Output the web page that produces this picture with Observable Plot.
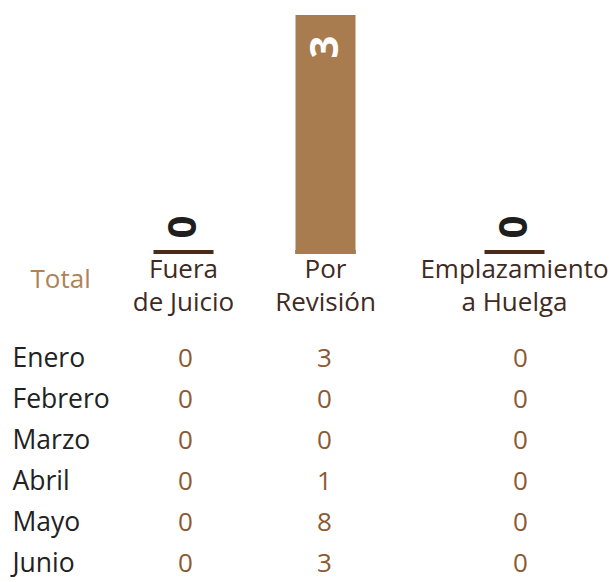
<!DOCTYPE html>
<html>
<head>
<meta charset="utf-8">
<script src="https://cdn.jsdelivr.net/npm/d3@7"></script>
<script src="https://cdn.jsdelivr.net/npm/@observablehq/plot@0.6"></script>
<style>
  html, body { margin: 0; padding: 0; background: #ffffff; }
  #chart svg { display: block; }
</style>
</head>
<body>
<div id="chart"></div>
<script>
// ---- data ----
const categories = ["Fuera de Juicio", "Por Revisión", "Emplazamiento a Huelga"];
const categoryLabels = ["Fuera\nde Juicio", "Por\nRevisión", "Emplazamiento\na Huelga"];
const totals = [0, 3, 0];
const totalLabel = "Total";
const months = ["Enero", "Febrero", "Marzo", "Abril", "Mayo", "Junio"];
const fueraDeJuicio = [0, 0, 0, 0, 0, 0];
const porRevision = [3, 0, 0, 1, 8, 3];
const emplazamientoAHuelga = [0, 0, 0, 0, 0, 0];

// ---- tables built from the arrays ----
const bars = categories.map((c, i) => ({i, category: c, label: categoryLabels[i], total: totals[i]}));
const monthly = [fueraDeJuicio, porRevision, emplazamientoAHuelga];
const cells = [];
months.forEach((m, r) => monthly.forEach((series, i) => cells.push({month: m, i, value: series[r]})));

const FONT = "'Open Sans', sans-serif";
const BAR = "#a97c50";
const DARK_LINE = "#4a2a18";
const LABEL = "#3f2a1f";
const VALUE = "#8c5a32";
const TOTAL = "#b08256";

const barChart = Plot.plot({
  width: 616,
  height: 320,
  margin: 0,
  style: {fontFamily: FONT, background: "transparent", overflow: "visible"},
  x: {type: "linear", domain: [0, 1, 2], range: [183, 325, 514], axis: null},
  y: {domain: [0, 3], range: [254, 15], axis: null},
  marks: [
    Plot.ruleX(bars, {x: "i", y1: 0, y2: 0, insetBottom: 4, stroke: DARK_LINE, strokeWidth: 60}),
    Plot.ruleX(bars, {x: "i", y1: 0, y2: "total", stroke: BAR, strokeWidth: 60}),
    Plot.text(bars.filter(d => d.total > 0), {
      x: "i", y: "total", text: d => String(d.total), rotate: -90, textAnchor: "end",
      dy: 20, fill: "#ffffff", fontSize: 40, fontWeight: "bold"
    }),
    Plot.text(bars.filter(d => d.total === 0), {
      x: "i", y: "total", text: d => String(d.total), rotate: -90, textAnchor: "start",
      dy: -16, fill: "#1e1e1e", fontSize: 40, fontWeight: "bold"
    }),
    Plot.text(bars, {
      x: "i", y: 0, text: "label", lineAnchor: "top", dy: 0,
      fontSize: 26, lineHeight: 1.27, fill: LABEL
    }),
    Plot.text([totalLabel], {
      frameAnchor: "top-left", dx: 30, dy: 269, textAnchor: "start",
      fontSize: 26, fill: TOTAL
    })
  ]
});

const monthTable = Plot.plot({
  width: 616,
  height: 262,
  margin: 0,
  style: {fontFamily: FONT, background: "transparent", overflow: "visible"},
  x: {type: "linear", domain: [0, 1, 2], range: [185, 324, 520], axis: null},
  y: {type: "point", domain: months, range: [37, 244], padding: 0, axis: null},
  marks: [
    Plot.text(months, {
      y: d => d, text: d => d, frameAnchor: "left", dx: 12, textAnchor: "start",
      fontSize: 26.5, fill: "#222222"
    }),
    Plot.text(cells, {
      x: "i", y: "month", text: d => String(d.value),
      fontSize: 26, fill: VALUE
    })
  ]
});

const el = document.getElementById("chart");
el.appendChild(barChart);
el.appendChild(monthTable);
</script>
</body>
</html>
